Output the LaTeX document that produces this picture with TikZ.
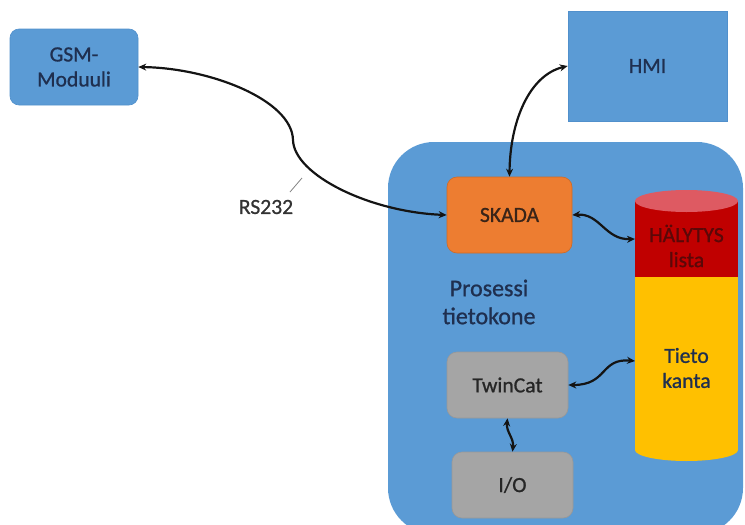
\documentclass[tikz,border=0pt]{standalone}
\usepackage{fontspec}
\setmainfont{Carlito}
\newfontfamily\medfont[FakeBold=0.9]{Carlito}
\usetikzlibrary{arrows.meta}
\definecolor{boxblue}{HTML}{5B9BD5}
\definecolor{boxedge}{HTML}{5190CC}
\definecolor{boxorange}{HTML}{ED7D31}
\definecolor{orangeedge}{HTML}{D06A25}
\definecolor{boxgray}{HTML}{A5A5A5}
\definecolor{grayedge}{HTML}{989898}
\definecolor{txtnavy}{HTML}{1F2F4F}
\definecolor{skadatext}{HTML}{3A2418}
\definecolor{cylred}{HTML}{C00000}
\definecolor{cyltop}{HTML}{DE5A62}
\definecolor{cylyellow}{HTML}{FFC000}
\definecolor{haltext}{HTML}{5A0808}
\tikzset{
  blockbox/.style={draw=boxedge, line width=0.6pt, fill=boxblue, text=txtnavy,
    font=\medfont\fontsize{21.6}{25}\selectfont, align=center, inner sep=0pt},
  innerbox/.style={rounded corners=10pt, inner sep=0pt, line width=0.6pt,
    font=\medfont\fontsize{21.6}{25}\selectfont, align=center},
  link/.style={line width=2.2pt, draw=black!92,
    {Stealth[length=8pt,width=7pt]}-{Stealth[length=8pt,width=7pt]}},
  lbl/.style={font=\medfont\fontsize{21.6}{25}\selectfont, align=center, inner sep=0pt}
}
\begin{document}
\begin{tikzpicture}[x=1pt,y=-1pt]
\useasboundingbox (0,0) rectangle (745,525);
\begin{scope}
\clip (0,0) rectangle (745,525);
\fill[boxblue, rounded corners=46pt] (388,142) rectangle (743,534);
\end{scope}

% GSM and HMI
\node[blockbox, rounded corners=9pt, minimum width=128pt, minimum height=76pt] (gsm) at (74,67) {GSM-\\Moduuli};
\node[blockbox, minimum width=159pt, minimum height=110pt] (hmi) at (647.5,66) {HMI};

% inner boxes
\node[innerbox, fill=boxorange, draw=orangeedge, text=skadatext, minimum width=125pt, minimum height=76pt] (skada) at (509.5,215) {SKADA};
\node[innerbox, fill=boxgray, draw=grayedge, text=black!85, minimum width=121pt, minimum height=66pt] (twincat) at (507.5,385) {TwinCat};
\node[innerbox, fill=boxgray, draw=grayedge, text=black!85, minimum width=121pt, minimum height=66pt] (io) at (512.5,485) {I/O};

% cylinder
\fill[cylyellow] (635,277) rectangle (738,450);
\fill[cylyellow] (686.5,450) ellipse [x radius=51.5pt, y radius=11pt];
\fill[cylred] (635,201) rectangle (738,277);
\fill[cyltop] (686.5,201) ellipse [x radius=51.5pt, y radius=11pt];
\node[lbl, text=haltext] (hal) at (686.5,246) {HÄLYTYS\\lista};
\node[lbl, text=txtnavy] (tieto) at (686.5,368) {Tieto\\kanta};
\coordinate (halin) at (635,239);
\coordinate (tietoin) at (635,361);

% process computer label
\node[lbl, text=txtnavy, font=\medfont\fontsize{24}{28}\selectfont] (prosessi) at (489,302) {Prosessi\\tietokone};

% RS232 label
\node[lbl, text=black!80] (rs) at (266,207) {RS232};
\coordinate (rsA) at (290,192);
\coordinate (rsB) at (302,178);
\draw[gray, line width=0.8pt] (rsA) -- (rsB);

% connectors
\coordinate (gsmmid) at (293,140);
\draw[link] (gsm.east) .. controls (210,68) and (292,100) .. (gsmmid)
  .. controls (294,175) and (370,212) .. (skada.west);
\draw[link] (hmi.west) .. controls (530,75) and (510,120) .. (skada.north);
\draw[link] (skada.east) .. controls (600,213) and (605,240) .. (halin);
\draw[link] (tietoin) .. controls (600,358) and (608,385) .. (twincat.east);
\draw[link] (twincat.south) .. controls (506,432) and (514,438) .. (io.north);
\end{tikzpicture}
\end{document}
